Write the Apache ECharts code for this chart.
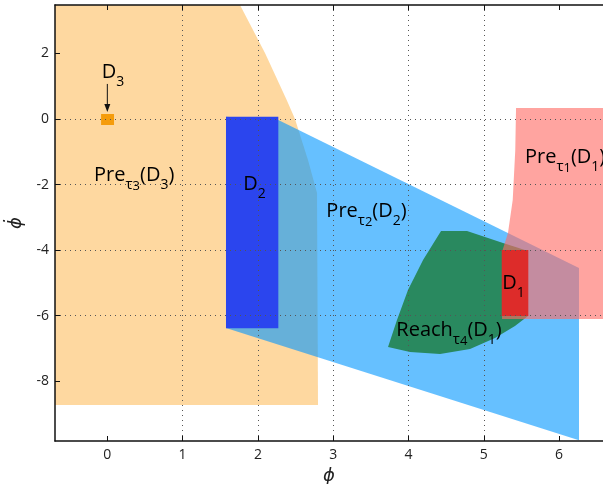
<!DOCTYPE html>
<html><head><meta charset="utf-8">
<script src="https://cdn.jsdelivr.net/npm/echarts@6/dist/echarts.min.js"></script>
<style>html,body{margin:0;padding:0;background:#fff}#c{width:603px;height:484px}</style>
</head><body><div id="c"></div>
<script>
// axis ticks and ranges
const xTicks = [0, 1, 2, 3, 4, 5, 6];
const yTicks = [-8, -6, -4, -2, 0, 2];
const xRange = [-0.695, 6.583];
const yRange = [-9.826, 3.479];

// regions (vertices in data coordinates: [phi, phidot])
const preD3 = [[-0.695, 3.479], [1.762, 3.479], [2.094, 2.014], [2.382, 0.580], [2.492, 0], [2.665, -1.251], [2.785, -2.258], [2.798, -8.727], [-0.695, -8.727]];
const preD2 = [[1.576, 0.070], [2.271, -0.03], [6.264, -4.55], [6.264, -9.80], [1.576, -6.38]];
const D2box = [[1.576, 0.070], [2.271, 0.070], [2.271, -6.387], [1.576, -6.387]];
const reachD1 = [[4.432, -3.418], [4.777, -3.418], [5.255, -3.784], [5.587, -4.028], [5.587, -6.012], [5.414, -6.317], [5.149, -6.683], [4.817, -7.018], [4.419, -7.171], [4.020, -7.110], [3.728, -6.958], [3.847, -6.134], [3.993, -5.218], [4.193, -4.303]];
const preD1 = [[5.428, 0.336], [6.583, 0.336], [6.583, -6.103], [5.242, -6.103], [5.25, -3.998], [5.321, -3.479], [5.384, -2.472], [5.418, -0.946]];
const D1box = [[5.238, -3.998], [5.591, -3.998], [5.591, -6.012], [5.238, -6.012]];
const D3box = [[-0.083, 0.153], [0.089, 0.153], [0.089, -0.183], [-0.083, -0.183]];
const D3arrow = [[0, 1.07], [0, 0.21]];

// text labels
const labelText = ['{m|D}{d|3}', '{m|Pre}{t|τ}{s|3}{m|(D}{d|3}{m|)}', '{m|D}{d|2}', '{m|Pre}{t|τ}{s|2}{m|(D}{d|2}{m|)}', '{m|D}{d|1}', '{m|Reach}{t|τ}{s|4}{m|(D}{d|1}{m|)}', '{m|Pre}{t|τ}{s|1}{m|(D}{d|1}{m|)}'];
const labelPos = [[0.074, 1.434], [0.357, -1.719], [1.955, -1.999], [3.442, -2.817], [5.394, -5.0], [4.538, -6.454], [5.547, -1.175]];
const labelAlign = ['center', 'center', 'center', 'center', 'center', 'center', 'left'];

const FONT = 'Open Sans';
const rich = {
  m: {fontFamily: FONT, fontSize: 20, lineHeight: 34, color: '#1a1a1a'},
  t: {fontFamily: FONT, fontSize: 15, lineHeight: 28, verticalAlign: 'bottom', color: '#1a1a1a'},
  s: {fontFamily: FONT, fontSize: 13, lineHeight: 14, verticalAlign: 'bottom', color: '#1a1a1a'},
  d: {fontFamily: FONT, fontSize: 14, lineHeight: 15, verticalAlign: 'bottom', color: '#1a1a1a'}
};

function poly(name, pts, color, z) {
  return {
    type: 'custom', name: name, z: z, silent: true, clip: true, animation: false,
    data: [[pts[0][0], pts[0][1]]],
    renderItem: function (params, api) {
      return {type: 'polygon', shape: {points: pts.map(function (p) { return api.coord(p); })}, style: {fill: color}};
    }
  };
}

const chart = echarts.init(document.getElementById('c'), null, {renderer: 'canvas'});
const axisLineStyle = {color: '#111', width: 1.5};
chart.setOption({
  animation: false,
  grid: {left: 55, top: 5, right: 0, bottom: 43, containLabel: false, outerBoundsMode: 'none'},
  xAxis: [{
    type: 'value', min: xRange[0], max: xRange[1], position: 'bottom', z: 5,
    minInterval: 1, maxInterval: 1,
    axisLine: {show: true, onZero: false, lineStyle: axisLineStyle},
    axisTick: {show: true, inside: true, length: 5, customValues: xTicks, lineStyle: {color: '#111'}},
    axisLabel: {customValues: xTicks, color: '#222', fontFamily: FONT, fontSize: 14, margin: 7},
    splitLine: {show: true, showMinLine: false, showMaxLine: false, lineStyle: {type: [1, 4], color: '#555', width: 1}},
    name: '\u03D5', nameLocation: 'middle', nameGap: 24,
    nameTextStyle: {fontFamily: 'DejaVu Sans', fontStyle: 'italic', fontSize: 18, color: '#222'}
  }, {
    type: 'value', min: xRange[0], max: xRange[1], position: 'top', z: 5,
    axisLine: {show: true, onZero: false, lineStyle: axisLineStyle},
    axisTick: {show: true, inside: true, length: 5, customValues: xTicks, lineStyle: {color: '#111'}},
    axisLabel: {show: false},
    splitLine: {show: false}
  }],
  yAxis: {
    type: 'value', min: yRange[0], max: yRange[1], z: 5,
    minInterval: 2, maxInterval: 2,
    axisLine: {show: true, onZero: false, lineStyle: axisLineStyle},
    axisTick: {show: true, inside: true, length: 5, customValues: yTicks, lineStyle: {color: '#111'}},
    axisLabel: {customValues: yTicks, color: '#222', fontFamily: FONT, fontSize: 14, margin: 6},
    splitLine: {show: true, showMinLine: false, showMaxLine: false, lineStyle: {type: [1, 4], color: '#555', width: 1}},
    name: '\u03D5\u0307', nameLocation: 'middle', nameGap: 30, nameRotate: 90,
    nameTextStyle: {fontFamily: 'DejaVu Sans', fontStyle: 'italic', fontSize: 18, color: '#222'}
  },
  series: [
    poly('Pre_tau3(D3)', preD3, '#FED8A0', 1),
    poly('Pre_tau2(D2)', preD2, 'rgba(0,150,255,0.6)', 2),
    poly('D2', D2box, '#2B45EE', 3),
    poly('Reach_tau4(D1)', reachD1, '#29895F', 3),
    poly('Pre_tau1(D1)', preD1, 'rgba(255,106,100,0.61)', 4),
    poly('D1', D1box, '#DD2C2A', 4),
    poly('D3', D3box, '#F59C0C', 4),
    {
      type: 'custom', name: 'arrow', z: 6, silent: true, animation: false,
      data: [[D3arrow[0][0], D3arrow[0][1]]],
      renderItem: function (params, api) {
        const a = api.coord(D3arrow[0]), b = api.coord(D3arrow[1]);
        return {type: 'group', children: [
          {type: 'line', shape: {x1: a[0], y1: a[1], x2: b[0], y2: b[1] - 6}, style: {stroke: '#111', lineWidth: 1}},
          {type: 'polygon', shape: {points: [[b[0] - 3, b[1] - 8], [b[0] + 3, b[1] - 8], [b[0], b[1]]]}, style: {fill: '#111'}}
        ]};
      }
    },
    {
      type: 'custom', name: 'labels', z: 10, silent: true, animation: false, clip: false,
      data: labelPos.map(function (p) { return [p[0], p[1]]; }),
      renderItem: function (params, api) {
        const i = params.dataIndex;
        const c = api.coord(labelPos[i]);
        return {type: 'text', x: c[0], y: c[1], style: {text: labelText[i], rich: rich, align: labelAlign[i], verticalAlign: 'middle'}};
      }
    }
  ]
});
</script></body></html>
